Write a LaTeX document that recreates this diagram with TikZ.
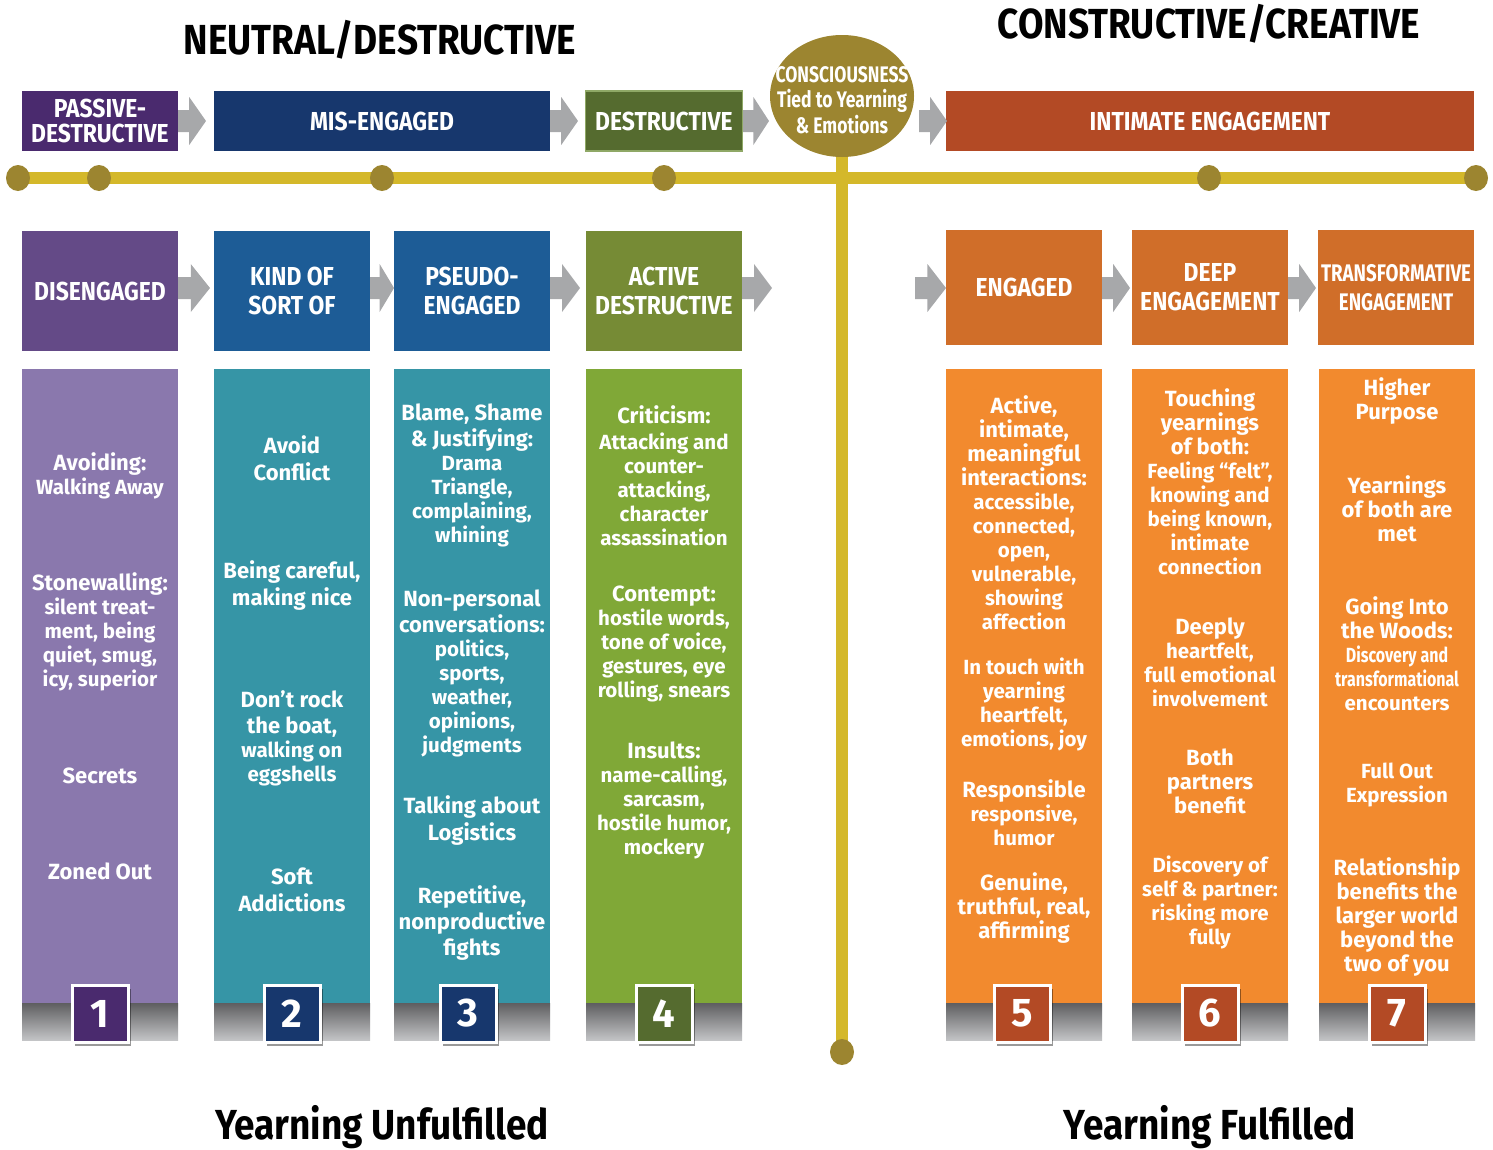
\documentclass[tikz,border=0pt]{standalone}
\usepackage{fontspec}
\setmainfont{Fira Sans}
\newfontfamily\condfont[FakeStretch=0.88]{Fira Sans}
\newfontfamily\xcondfont[FakeStretch=0.78]{Fira Sans}
\usetikzlibrary{shapes.geometric,shadows}
\definecolor{cPurpleDark}{HTML}{4A2A6E}
\definecolor{cNavy}{HTML}{17376D}
\definecolor{cGreenDark}{HTML}{556B2F}
\definecolor{cGreenEdge}{HTML}{8FA866}
\definecolor{cGold}{HTML}{9C8530}
\definecolor{cRust}{HTML}{B34A25}
\definecolor{cPurpleMid}{HTML}{644A87}
\definecolor{cBlue}{HTML}{1D5C96}
\definecolor{cOlive}{HTML}{768B35}
\definecolor{cOrangeDark}{HTML}{D06E29}
\definecolor{cLav}{HTML}{8A78AD}
\definecolor{cTeal}{HTML}{3695A6}
\definecolor{cLime}{HTML}{80A837}
\definecolor{cOrange}{HTML}{F28A2E}
\definecolor{cYellow}{HTML}{D4B82A}
\definecolor{cArrow}{HTML}{A7A8AA}
\definecolor{cShadeTop}{HTML}{5E5E60}
\definecolor{cShadeBot}{HTML}{C3C4C6}
\newcommand\smtxt{\fontsize{20.5}{24}\selectfont}
\newcommand\bgtxt{\fontsize{22}{24}\selectfont}
\newcommand\garrow[3]{%
  \fill[cArrow] (#1,#3-11) -- ({#1+0.4*(#2-#1)},#3-11) -- ({#1+0.4*(#2-#1)},#3-24)
    -- (#2,#3) -- ({#1+0.4*(#2-#1)},#3+24) -- ({#1+0.4*(#2-#1)},#3+11) -- (#1,#3+11) -- cycle;}
\tikzset{
  hdr/.style={inner sep=0, text=white, align=center,
    font=\condfont\bfseries\fontsize{26}{25}\selectfont},
  topbox/.style={hdr, minimum height=60},
  midbox/.style={hdr, minimum width=156, font=\condfont\bfseries\fontsize{26}{29}\selectfont},
  coltext/.style={inner sep=0, text=white, align=center, font=\bfseries\bgtxt},
  title/.style={inner sep=0, text=black, font=\condfont\bfseries\fontsize{42}{42}\selectfont},
  numbox/.style={draw=white, line width=3pt, minimum width=56, minimum height=57,
    inner sep=0, text=white, font=\bfseries\fontsize{40}{40}\selectfont,
    drop shadow={shadow xshift=2.5pt, shadow yshift=-3.5pt, opacity=.4, fill=black}},
  dot/.style={ellipse, fill=cGold, minimum width=24, minimum height=26, inner sep=0},
}
\begin{document}
\begin{tikzpicture}[x=1pt,y=-1pt]
\useasboundingbox (0,0) rectangle (1493,1149);
% titles
\node[title] (t1) at (380,40) {NEUTRAL/DESTRUCTIVE};
\node[title] (t2) at (1209,24) {CONSTRUCTIVE/CREATIVE};
\node[title] (b1) at (382,1127) {Yearning Unfulfilled};
\node[title] (b2) at (1210,1127) {Yearning Fulfilled};
% timeline
\coordinate (cc) at (842,96);
\coordinate (vb) at (842,1052);
\coordinate (hl) at (18,178);
\coordinate (hr) at (1476,178);
\draw[cYellow, line width=12pt] (hl) -- (hr);
\draw[cYellow, line width=12pt] (cc) -- (vb);
\foreach \x/\n in {18/d1,99/d2,382/d3,664/d4,1209/d5,1476/d6}
  \node[dot] (\n) at (\x,178) {};
\node[dot] (d7) at (vb) {};
% top row
\node[topbox, fill=cPurpleDark, minimum width=156] (pd) at (100,121) {PASSIVE-\\DESTRUCTIVE};
\node[topbox, fill=cNavy, minimum width=336] (me) at (382,121) {MIS-ENGAGED};
\node[topbox, fill=cGreenDark, draw=cGreenEdge, line width=1.2pt, minimum width=157] (de) at (664,121) {DESTRUCTIVE};
\node[ellipse, fill=cGold, minimum width=144, minimum height=122, inner sep=0] (cons) at (cc) {};
\node[inner sep=0, text=white, align=center,
  font=\xcondfont\bfseries\fontsize{22.5}{25.5}\selectfont] (conslbl) at (842,100) {CONSCIOUSNESS\\Tied to Yearning\\\& Emotions};
\node[topbox, fill=cRust, minimum width=528] (ie) at (1210,121) {INTIMATE ENGAGEMENT};
\garrow{178}{206}{121}
\garrow{550}{578}{121}
\garrow{743}{769}{121}
\garrow{919}{947}{121}
% second row
\node[midbox, fill=cPurpleMid, minimum height=120] (h1) at (100,291) {DISENGAGED};
\node[midbox, fill=cBlue, minimum height=120] (h2) at (292,291) {KIND OF\\SORT OF};
\node[midbox, fill=cBlue, minimum height=120] (h3) at (472,291) {PSEUDO-\\ENGAGED};
\node[midbox, fill=cOlive, minimum height=120] (h4) at (664,291) {ACTIVE\\DESTRUCTIVE};
\node[midbox, fill=cOrangeDark, minimum height=115] (h5) at (1024,287.5) {ENGAGED};
\node[midbox, fill=cOrangeDark, minimum height=115] (h6) at (1210,287.5) {DEEP\\ENGAGEMENT};
\node[midbox, fill=cOrangeDark, minimum height=115, font=\xcondfont\bfseries\fontsize{24}{29}\selectfont] (h7) at (1396,287.5) {TRANSFORMATIVE\\ENGAGEMENT};
\garrow{178}{210}{288}
\garrow{370}{394}{288}
\garrow{550}{580}{288}
\garrow{742}{772}{288}
\garrow{915}{946}{288}
\garrow{1102}{1130}{288}
\garrow{1288}{1316}{288}
% columns
\foreach \xa/\xb/\c in {22/178/cLav,214/370/cTeal,394/550/cTeal,586/742/cLime,946/1102/cOrange,1132/1288/cOrange,1319/1475/cOrange}{
  \fill[\c] (\xa,369) rectangle (\xb,1003);
  \shade[top color=cShadeTop, bottom color=cShadeBot] (\xa,1003) rectangle (\xb,1040);
}
\node[numbox, fill=cPurpleDark] (n1) at (100,1013.5) {1};
\node[numbox, fill=cNavy] (n2) at (292,1013.5) {2};
\node[numbox, fill=cNavy] (n3) at (468,1013.5) {3};
\node[numbox, fill=cGreenDark] (n4) at (664,1013.5) {4};
\node[numbox, fill=cRust] (n5) at (1022,1013.5) {5};
\node[numbox, fill=cRust] (n6) at (1210,1013.5) {6};
\node[numbox, fill=cRust] (n7) at (1397,1013.5) {7};
% column 1
\node[coltext] (c1a) at (100,476) {Avoiding:\\{\smtxt Walking Away}};
\node[coltext] (c1b) at (100,632) {Stonewalling:\\{\smtxt silent treat-}\\{\smtxt ment, being}\\{\smtxt quiet, smug,}\\{\smtxt icy, superior}};
\node[coltext] (c1c) at (100,776) {Secrets};
\node[coltext] (c1d) at (100,871) {Zoned Out};
% column 2
\node[coltext] (c2a) at (292,458) {Avoid\\[3pt]Conflict};
\node[coltext] (c2b) at (292,586) {Being careful,\\[3pt]making nice};
\node[coltext] (c2c) at (292,738) {Don’t rock\\[2pt]the boat,\\{\smtxt walking on}\\{\smtxt eggshells}};
\node[coltext] (c2d) at (292,890) {Soft\\[3pt]Addictions};
% column 3
\node[coltext] (c3a) at (472,475) {Blame, Shame\\[2pt]\&~Justifying:\\{\smtxt Drama}\\{\smtxt Triangle,}\\{\smtxt complaining,}\\{\smtxt whining}};
\node[coltext] (c3b) at (472,673) {Non-personal\\[2pt]conversations:\\{\smtxt politics,}\\{\smtxt sports,}\\{\smtxt weather,}\\{\smtxt opinions,}\\{\smtxt judgments}};
\node[coltext] (c3c) at (472,821) {Talking about\\[3pt]Logistics};
\node[coltext] (c3d) at (472,923) {Repetitive,\\[2pt]nonproductive\\[2pt]fights};
% column 4
\node[coltext] (c4a) at (664,476) {Criticism:\\[2pt]{\smtxt Attacking and}\\{\smtxt counter-}\\{\smtxt attacking,}\\{\smtxt character}\\{\smtxt assassination}};
\node[coltext] (c4b) at (664,644) {Contempt:\\{\smtxt hostile words,}\\{\smtxt tone of voice,}\\{\smtxt gestures, eye}\\{\smtxt rolling, snears}};
\node[coltext] (c4c) at (664,800) {Insults:\\{\smtxt name-calling,}\\{\smtxt sarcasm,}\\{\smtxt hostile humor,}\\{\smtxt mockery}};
% column 5
\node[coltext] (c5a) at (1024,513) {Active,\\intimate,\\meaningful\\interactions:\\{\smtxt accessible,}\\{\smtxt connected,}\\{\smtxt open,}\\{\smtxt vulnerable,}\\{\smtxt showing}\\{\smtxt affection}};
\node[coltext] (c5b) at (1024,704) {{\smtxt In touch with}\\{\smtxt yearning}\\{\smtxt heartfelt,}\\{\smtxt emotions, joy}};
\node[coltext] (c5c) at (1024,813) {Responsible\\{\smtxt responsive,}\\{\smtxt humor}};
\node[coltext] (c5d) at (1024,908) {Genuine,\\truthful, real,\\affirming};
% column 6
\node[coltext] (c6a) at (1210,482) {Touching\\yearnings\\of both:\\{\smtxt Feeling “felt”,}\\{\smtxt knowing and}\\{\smtxt being known,}\\{\smtxt intimate}\\{\smtxt connection}};
\node[coltext] (c6b) at (1210,662) {Deeply\\{\smtxt heartfelt,}\\{\smtxt full emotional}\\{\smtxt involvement}};
\node[coltext] (c6c) at (1210,781) {Both\\partners\\benefit};
\node[coltext] (c6d) at (1210,902) {{\smtxt Discovery of}\\{\smtxt self \& partner:}\\{\smtxt risking more}\\{\smtxt fully}};
% column 7
\node[coltext] (c7a) at (1397,401) {Higher\\Purpose};
\node[coltext] (c7b) at (1397,509) {Yearnings\\of both are\\met};
\node[coltext] (c7c) at (1397,654) {Going Into\\the Woods:\\{\xcondfont\smtxt Discovery and}\\{\xcondfont\smtxt transformational}\\{\smtxt encounters}};
\node[coltext] (c7d) at (1397,785) {{\smtxt Full Out}\\{\smtxt Expression}};
\node[coltext] (c7e) at (1397,917) {Relationship\\benefits the\\larger world\\beyond the\\two of you};
\end{tikzpicture}
\end{document}
